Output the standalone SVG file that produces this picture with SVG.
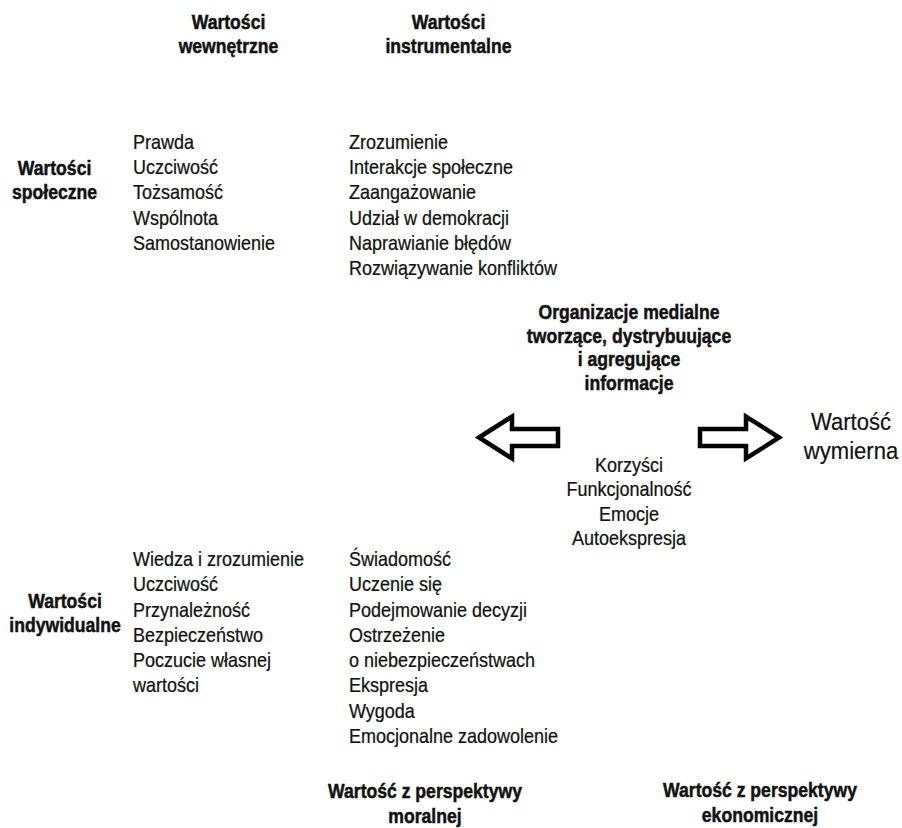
<svg xmlns="http://www.w3.org/2000/svg" width="902" height="828" viewBox="0 0 902 828">
<style>
  text { font-family: "Liberation Sans", Arial, Helvetica, sans-serif; fill: #111; }
  .r { font-size: 20px; stroke: #111; stroke-width: 0.25px; }
  .b { font-size: 20px; font-weight: bold; stroke: #111; stroke-width: 0.5px; }
  .c { text-anchor: middle; }
  .big { font-size: 24px; stroke: #111; stroke-width: 0.2px; }
  .arrow { fill: #fff; stroke: #000; stroke-width: 4.5; stroke-linejoin: miter; stroke-miterlimit: 10; }
</style>
<rect width="902" height="828" fill="#fff"/>

<g id="header-intrinsic">
  <text class="b c" transform="translate(228.5 29) scale(0.88 1)"><tspan x="0" y="0">Wartości</tspan><tspan x="0" y="24">wewnętrzne</tspan></text>
</g>
<g id="header-instrumental">
  <text class="b c" transform="translate(448.5 29) scale(0.88 1)"><tspan x="0" y="0">Wartości</tspan><tspan x="0" y="24">instrumentalne</tspan></text>
</g>

<g id="label-social">
  <text class="b c" transform="translate(54.5 175) scale(0.88 1)"><tspan x="0" y="0">Wartości</tspan><tspan x="0" y="24">społeczne</tspan></text>
</g>
<g id="social-intrinsic">
  <text class="r" transform="translate(133 149) scale(0.9 1)"><tspan x="0" y="0">Prawda</tspan><tspan x="0" y="25.2">Uczciwość</tspan><tspan x="0" y="50.4">Tożsamość</tspan><tspan x="0" y="75.6">Wspólnota</tspan><tspan x="0" y="100.8">Samostanowienie</tspan></text>
</g>
<g id="social-instrumental">
  <text class="r" transform="translate(349 149) scale(0.9 1)"><tspan x="0" y="0">Zrozumienie</tspan><tspan x="0" y="25.2">Interakcje społeczne</tspan><tspan x="0" y="50.4">Zaangażowanie</tspan><tspan x="0" y="75.6">Udział w demokracji</tspan><tspan x="0" y="100.8">Naprawianie błędów</tspan><tspan x="0" y="126">Rozwiązywanie konfliktów</tspan></text>
</g>

<g id="media-organizations">
  <text class="b c" transform="translate(629 319) scale(0.88 1)"><tspan x="0" y="0">Organizacje medialne</tspan><tspan x="0" y="23.7">tworzące, dystrybuujące</tspan><tspan x="0" y="47.4">i agregujące</tspan><tspan x="0" y="71.1">informacje</tspan></text>
</g>

<g id="connectors">
  <polygon class="arrow" points="479,437.5 512,416.5 512,429 558,429 558,446 512,446 512,458.5"/>
  <polygon class="arrow" points="779,437.5 746,416.5 746,429 700,429 700,446 746,446 746,458.5"/>
</g>

<g id="benefits">
  <text class="r c" transform="translate(629 472) scale(0.9 1)"><tspan x="0" y="0">Korzyści</tspan><tspan x="0" y="24.5">Funkcjonalność</tspan><tspan x="0" y="49">Emocje</tspan><tspan x="0" y="73.5">Autoekspresja</tspan></text>
</g>

<g id="measurable-value">
  <text class="big c" transform="translate(851 430) scale(0.92 1)"><tspan x="0" y="0">Wartość</tspan><tspan x="0" y="29">wymierna</tspan></text>
</g>

<g id="label-individual">
  <text class="b c" transform="translate(65 608) scale(0.88 1)"><tspan x="0" y="0">Wartości</tspan><tspan x="0" y="24.5">indywidualne</tspan></text>
</g>
<g id="individual-intrinsic">
  <text class="r" transform="translate(133 566) scale(0.9 1)"><tspan x="0" y="0">Wiedza i zrozumienie</tspan><tspan x="0" y="25.3">Uczciwość</tspan><tspan x="0" y="50.6">Przynależność</tspan><tspan x="0" y="75.9">Bezpieczeństwo</tspan><tspan x="0" y="101.2">Poczucie własnej</tspan><tspan x="0" y="126.5">wartości</tspan></text>
</g>
<g id="individual-instrumental">
  <text class="r" transform="translate(349 566) scale(0.9 1)"><tspan x="0" y="0">Świadomość</tspan><tspan x="0" y="25.3">Uczenie się</tspan><tspan x="0" y="50.6">Podejmowanie decyzji</tspan><tspan x="0" y="75.9">Ostrzeżenie</tspan><tspan x="0" y="101.2">o niebezpieczeństwach</tspan><tspan x="0" y="126.5">Ekspresja</tspan><tspan x="0" y="151.8">Wygoda</tspan><tspan x="0" y="177.1">Emocjonalne zadowolenie</tspan></text>
</g>

<g id="footer-moral">
  <text class="b c" transform="translate(425 798) scale(0.88 1)"><tspan x="0" y="0">Wartość z perspektywy</tspan><tspan x="0" y="25">moralnej</tspan></text>
</g>
<g id="footer-economic">
  <text class="b c" transform="translate(760 797) scale(0.88 1)"><tspan x="0" y="0">Wartość z perspektywy</tspan><tspan x="0" y="25">ekonomicznej</tspan></text>
</g>
</svg>
